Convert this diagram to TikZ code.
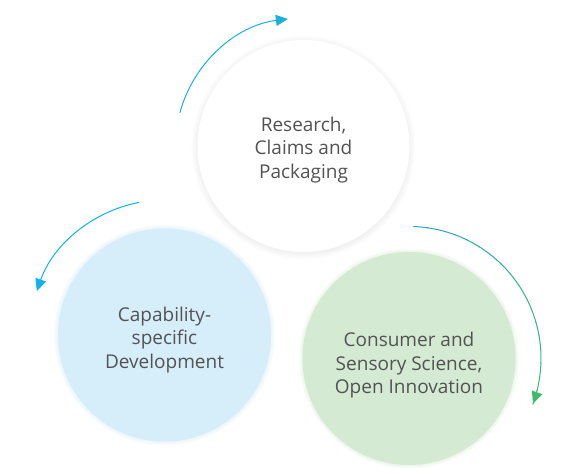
\documentclass[tikz,border=0pt]{standalone}
\usepackage{fontspec}
\setmainfont{Open Sans}
\usetikzlibrary{arrows.meta}
\definecolor{txt}{HTML}{535353}
\definecolor{bluefill}{HTML}{D6EDFA}
\definecolor{greenfill}{HTML}{D4EAD2}
\definecolor{cyanA}{HTML}{1BB0DC}
\definecolor{cyanB}{HTML}{0DB3EE}
\definecolor{tealA}{HTML}{26A9BA}
\definecolor{greenA}{HTML}{3DBA6E}
\tikzset{
  bubble/.style={circle, minimum size=213pt, inner sep=0pt},
  label/.style={align=center, text=txt, inner sep=0pt, font=\fontsize{19}{23.5}\selectfont},
  cyc/.style={line width=1pt},
  tip/.style={-{Triangle[length=12pt,width=11pt]}}
}
\begin{document}
\begin{tikzpicture}[x=1pt,y=1pt]
\useasboundingbox (0,0) rectangle (564,467);
\fill[white] (0,0) rectangle (564,467);
% soft halos
\foreach \k in {1,...,4}{
  \fill[bluefill, opacity=0.12] (164.5,132) circle[radius=106.5+\k];
  \fill[greenfill, opacity=0.12] (409,108.5) circle[radius=106+\k];
}
\foreach \k in {1,...,7}{
  \fill[black, opacity=0.009] (303.5,319.5) circle[radius=105+\k];
}
\node[bubble, fill=bluefill] (cap) at (164.5,132) {};
\node[bubble, fill=greenfill] (con) at (409,108.5) {};
\node[bubble, minimum size=212pt, fill=white] (res) at (303.5,321) {};
\node[label] (capt) at ([yshift=-5pt]cap.center) {Capability-\\specific\\Development};
\node[label] (cont) at ([yshift=-7pt]con.center) {Consumer and\\Sensory Science,\\Open Innovation};
\node[label] (rest) at ([yshift=-4pt]res.center) {Research,\\Claims and\\Packaging};
% top arrow
\draw[cyc, cyanA, tip] ([shift={(165:128)}]res.center) arc[start angle=165, end angle=97, radius=128];
% left arrow
\draw[cyc, cyanB, tip] ([shift={(101:135)}]cap.center) arc[start angle=101, end angle=161, radius=135];
% right arrow with gradient
\foreach \i in {0,...,17}{
  \pgfmathsetmacro\a{88-\i*6}
  \pgfmathsetmacro\m{100-\i*100/17}
  \draw[cyc, tealA!\m!greenA, line cap=round] ([shift={(\a:132)}]con.center) arc[start angle=\a, end angle=\a-6.2, radius=132];
}
\draw[cyc, greenA, tip] ([shift={(-15:132)}]con.center) arc[start angle=-15, end angle=-20, radius=132];
\end{tikzpicture}
\end{document}
